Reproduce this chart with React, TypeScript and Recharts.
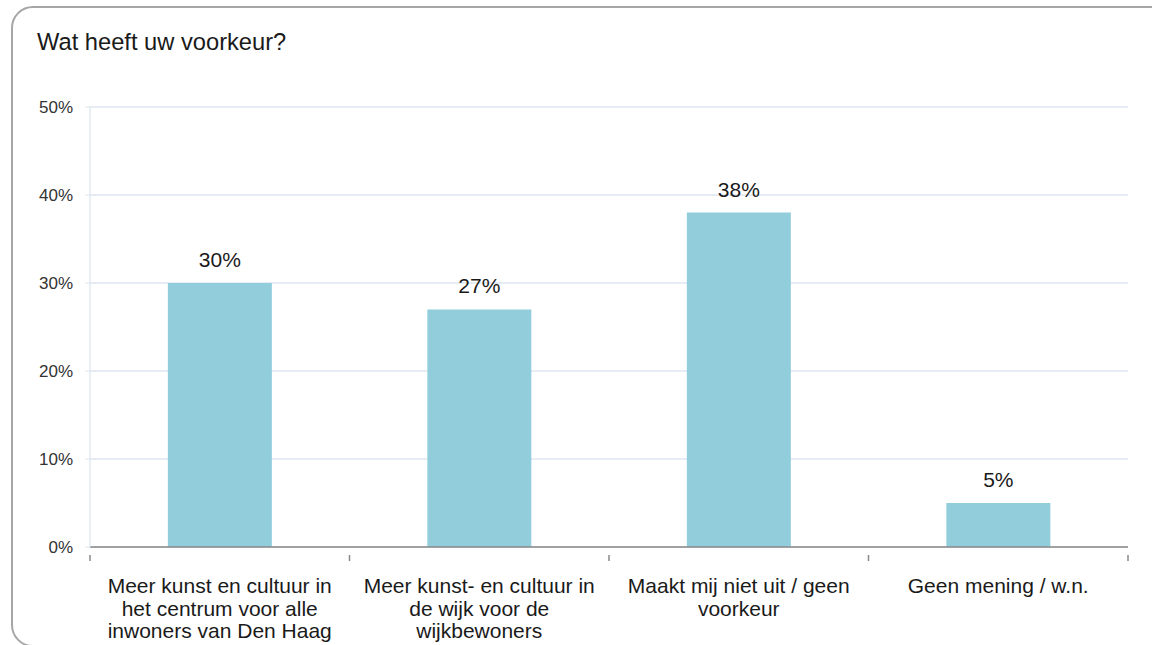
import React from "react"
import { BarChart, Bar, XAxis, YAxis, CartesianGrid, LabelList } from "recharts"

// categories and values
const categories = [
  ["Meer kunst en cultuur in", "het centrum voor alle", "inwoners van Den Haag"],
  ["Meer kunst- en cultuur in", "de wijk voor de", "wijkbewoners"],
  ["Maakt mij niet uit / geen", "voorkeur"],
  ["Geen mening / w.n."],
]
const values = [30, 27, 38, 5]
const yTicks = [0, 10, 20, 30, 40, 50]

const data = categories.map((lines, i) => ({ name: lines.join(" "), value: values[i], lines }))

const W = 1152
const H = 645
const PLOT_LEFT = 90
const PLOT_RIGHT = 1128
const FONT = "'Liberation Sans', Arial, sans-serif"

function CategoryTick(props: any) {
  const { x, y, index } = props
  const band = (PLOT_RIGHT - PLOT_LEFT) / categories.length
  const lines: string[] = categories[index] || []
  const left = x - band / 2
  return (
    <g>
      <line x1={left} y1={y} x2={left} y2={y + 6} stroke="#898989" strokeWidth={1.5} />
      {index === categories.length - 1 && (
        <line x1={x + band / 2} y1={y} x2={x + band / 2} y2={y + 6} stroke="#898989" strokeWidth={1.5} />
      )}
      <text x={x} y={y + 31} textAnchor="middle" fontSize={21} fill="#1a1a1a" fontFamily={FONT}>
        {lines.map((l, i) => (
          <tspan key={i} x={x} dy={i === 0 ? 7 : 22.5}>
            {l}
          </tspan>
        ))}
      </text>
    </g>
  )
}

export default function App() {
  return (
    <div style={{ position: "fixed", left: 0, top: 0, width: W, height: H, overflow: "hidden", background: "#fff" }}>
      <div
        style={{
          position: "absolute",
          left: 11,
          top: 6,
          width: 1170,
          height: 641,
          border: "2px solid #a6a6a6",
          borderRadius: 22,
          boxSizing: "border-box",
        }}
      />
      <div
        style={{
          position: "absolute",
          left: 37,
          top: 30,
          fontFamily: FONT,
          fontSize: 23.7,
          color: "#1a1a1a",
          lineHeight: "24px",
          whiteSpace: "nowrap",
        }}
      >
        Wat heeft uw voorkeur?
      </div>
      <BarChart
        width={W}
        height={H}
        data={data}
        margin={{ top: 107, right: W - PLOT_RIGHT, left: PLOT_LEFT - 60, bottom: 18 }}
        barCategoryGap="30%"
        style={{ position: "absolute", left: 0, top: 0 }}
      >
        <CartesianGrid vertical={false} stroke="#dce6f0" strokeWidth={1.3} />
        <XAxis
          dataKey="name"
          height={80}
          tick={<CategoryTick />}
          tickLine={false}
          axisLine={{ stroke: "#898989", strokeWidth: 1.5 }}
          interval={0}
        />
        <YAxis
          width={60}
          domain={[0, 50]}
          ticks={yTicks}
          tickFormatter={(v: number) => `${v}%`}
          tick={{ fontSize: 17, fill: "#333", fontFamily: FONT }}
          tickLine={{ stroke: "#dce6f0" }}
          tickSize={5}
          tickMargin={12}
          axisLine={{ stroke: "#dce6f0", strokeWidth: 1.3 }}
        />
        <Bar dataKey="value" fill="#92cddc" isAnimationActive={false}>
          <LabelList
            dataKey="value"
            position="top"
            offset={16}
            formatter={(v: number) => `${v}%`}
            style={{ fontSize: 21, fill: "#1a1a1a", fontFamily: FONT }}
          />
        </Bar>
      </BarChart>
    </div>
  )
}
